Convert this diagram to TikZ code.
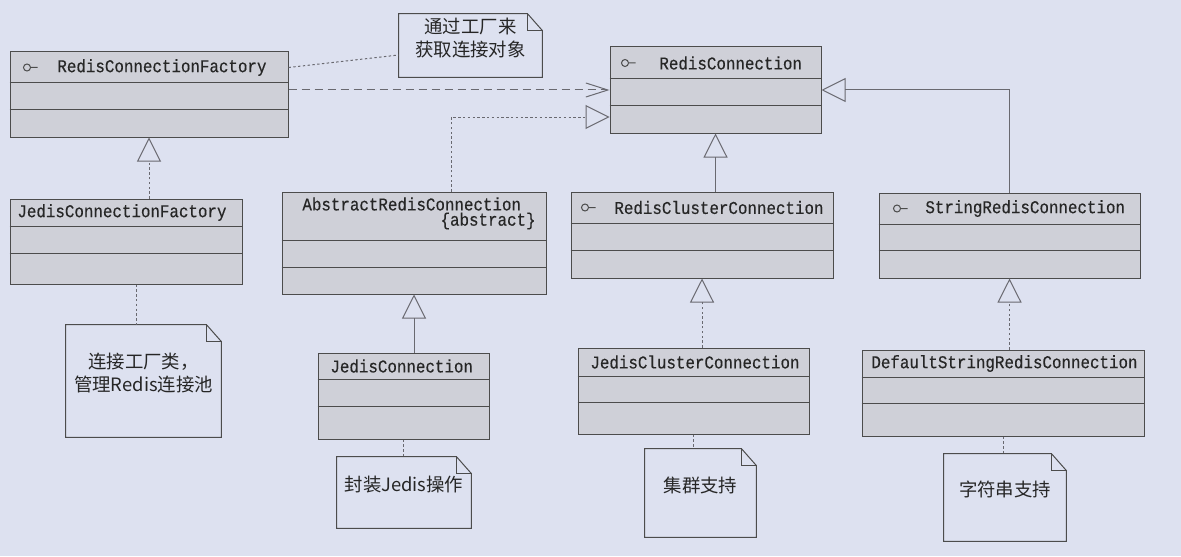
\documentclass[tikz,border=0pt]{standalone}
\usepackage{fontspec}
\usepackage{tikz}
\usetikzlibrary{arrows.meta}
\usetikzlibrary{fit}
\newfontfamily\monofont[FakeStretch=0.88,FakeBold=0.4]{Liberation Mono}
\newfontfamily\cjkfont{Noto Sans CJK SC}
\definecolor{paper}{RGB}{221,225,240}
\definecolor{boxfill}{RGB}{207,208,216}
\definecolor{linegray}{RGB}{105,105,112}

\newcommand{\umlclass}[7]{%
  \node[classbox,fit={(#2,#3) (#4,#5)}] (#1) {};
  \draw[classline] (#1.west |- 0,#6) -- (#1.east |- 0,#6);
  \draw[classline] (#1.west |- 0,#7) -- (#1.east |- 0,#7);
}
\newcommand{\umlnote}[6]{%
  \node[notebox,fit={(#2,#3) (#4,#5)}] (#1) {#6};
  \draw[classline] (#1.south west) -- (#1.north west) -- ([xshift=-7.5pt]#1.north east)
    -- ([yshift=-8.5pt]#1.north east) -- (#1.south east) -- cycle;
  \draw[classline] ([xshift=-7.5pt]#1.north east) -- ++(0,17) -- ++(15,0);
}

\begin{document}
\begin{tikzpicture}[x=0.5pt,y=-0.5pt]
\tikzstyle{classbox}=[draw=black!70,fill=boxfill,line width=0.5pt,inner sep=0pt]
\tikzstyle{classline}=[draw=black!70,line width=0.5pt]
\tikzstyle{clsname}=[inner sep=0pt,text=black!85,font=\monofont\fontsize{9}{10}\selectfont]
\tikzstyle{notebox}=[inner sep=0pt,align=center,text=black!85,font=\cjkfont\fontsize{9.2}{11.5}\selectfont]
\tikzstyle{realize}=[draw=linegray,line width=0.5pt,dash pattern=on 1.2pt off 1.2pt,
-{Triangle[open,length=12pt,width=12pt]}]
\tikzstyle{inherit}=[draw=linegray,line width=0.5pt,-{Triangle[open,length=12pt,width=12pt]}]
\tikzstyle{depend}=[draw=linegray,line width=0.5pt,dash pattern=on 4pt off 2.5pt,
-{Straight Barb[length=11pt,width=7pt]}]
\tikzstyle{noteline}=[draw=linegray,line width=0.5pt,dash pattern=on 1.2pt off 1.2pt]
\useasboundingbox (0,0) rectangle (1181,556);
\fill[paper] (0,0) rectangle (1181,556);

\umlclass{rcf}{10}{52}{288}{137}{83}{109}
\umlclass{rc}{610}{47}{821}{133}{79}{105}
\umlclass{jcf}{10}{199}{242}{284}{226}{253}
\umlclass{arc}{282}{192}{546}{294}{240}{267}
\umlclass{rcc}{571}{192}{833}{278}{223}{250}
\umlclass{src}{879}{193}{1140}{278}{224}{250}
\umlclass{jc}{318}{353}{489}{439}{379}{406}
\umlclass{jcc}{578}{348}{809}{434}{376}{402}
\umlclass{dsrc}{862}{350}{1144}{436}{377}{403}

\node[clsname,anchor=west] (rcfname) at (57,67.5) {RedisConnectionFactory};
\node[clsname,anchor=west] (rcname) at (659,63) {RedisConnection};
\node[clsname,anchor=west] (jcfname) at (17,212.5) {JedisConnectionFactory};
\node[clsname,anchor=west] (arcname) at (302,204) {AbstractRedisConnection};
\node[clsname,anchor=east] (arcabs) at (536,221) {\{abstract\}};
\node[clsname,anchor=west] (rccname) at (614,207.5) {RedisClusterConnection};
\node[clsname,anchor=west] (srcname) at (925,208.5) {StringRedisConnection};
\node[clsname,anchor=west] (jcname) at (330,366) {JedisConnection};
\node[clsname,anchor=west] (jccname) at (590,362) {JedisClusterConnection};
\node[clsname,anchor=west] (dsrcname) at (871,363.5) {DefaultStringRedisConnection};

\foreach \x/\y in {27/67.5,625/63,585/207.5,897/208.5}
  \draw[classline] (\x,\y) circle (3.5) ++(3.5,0) -- ++(7,0);

\umlnote{n1}{399}{14}{542}{77}{通过工厂来\\获取连接对象}
\umlnote{n2}{66}{325}{221}{437}{连接工厂类，\\管理Redis连接池}
\umlnote{n3}{337}{457}{471}{528}{封装Jedis操作}
\umlnote{n4}{645}{449}{756}{537}{集群支持}
\umlnote{n5}{944}{454}{1066}{541}{字符串支持}

\draw[depend] (rc.west -| rcf.east) -- (rc.west);
\draw[realize] ([xshift=18.5pt]arc.north) |- ([yshift=-13.5pt]rc.west);
\draw[inherit] (src.north) |- (rc.east);
\draw[inherit] (rcc.north -| rc.south) -- (rc.south);
\draw[realize] (jcf.north -| rcf.south) -- (rcf.south);
\draw[inherit] (jc.north -| arc.south) -- (arc.south);
\draw[realize] (jcc.north -| rcc.south) -- (rcc.south);
\draw[realize] (dsrc.north -| src.south) -- (src.south);

\draw[noteline] (rcfname -| rcf.east) -- ([yshift=-4.75pt]n1.west);
\draw[noteline] ([xshift=-3.75pt]n2.north |- jcf.south) -- ([xshift=-3.75pt]n2.north);
\draw[noteline] (jc.south) -- (jc.south |- n3.north);
\draw[noteline] (jcc.south) -- (jcc.south |- n4.north);
\draw[noteline] (dsrc.south) -- (dsrc.south |- n5.north);
\end{tikzpicture}
\end{document}
